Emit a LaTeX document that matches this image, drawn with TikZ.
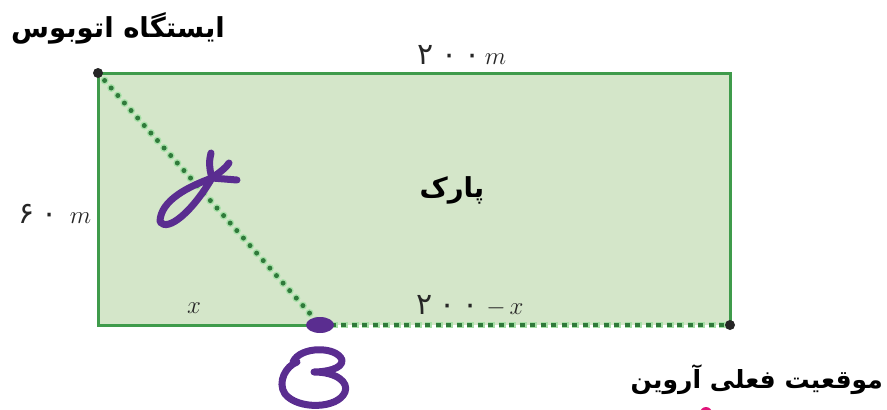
\documentclass[tikz,border=0pt]{standalone}
\usepackage{fontspec}
\newfontfamily\fa[Script=Arabic]{DejaVu Sans}
\TeXXeTstate=1
\definecolor{parkfill}{HTML}{D4E6C9}
\definecolor{edgec}{HTML}{3F9B4B}
\definecolor{dotc}{HTML}{2F7A3A}
\definecolor{glowc}{HTML}{A8E0A8}
\definecolor{pen}{HTML}{5A2D90}
\definecolor{pinkc}{HTML}{E0147A}
\newcommand{\fadig}[1]{{\fa\fontsize{30}{32}\selectfont #1}}
\newcommand{\dsp}{\hspace{7pt}}
\tikzset{
  falabel/.style={font=\fa\bfseries\fontsize{27.5}{30}\selectfont, text=black, inner sep=0pt},
  mathlabel/.style={font=\fontsize{27}{30}\selectfont, text=black!85, inner sep=0pt},
  edgeline/.style={edgec, line width=3},
  handw/.style={pen, line width=7, line cap=round, line join=round},
  corner/.style={circle, fill=black!85, inner sep=0pt, minimum size=10pt}
}
\begin{document}
\begin{tikzpicture}[x=1pt,y=-1pt]
\useasboundingbox (0,0) rectangle (887,410);
\coordinate (A) at (98,73);
\coordinate (B) at (730,73);
\coordinate (C) at (730,325);
\coordinate (D) at (98,325);
\coordinate (P) at (320,325);
\fill[parkfill] (A) rectangle (C);
\draw[edgeline] (P) -- (D) -- (A) -- (B) -- (C);
% diagonal dotted path
\draw[glowc, line width=8, line cap=round, dash pattern=on 0pt off 10pt] (A) -- (P);
\draw[dotc, line width=5, line cap=round, dash pattern=on 0pt off 10pt] (A) -- (P);
% bottom dashed part
\draw[glowc, line width=6, dash pattern=on 7pt off 3.5pt] (P) -- (C);
\draw[dotc, line width=4, dash pattern=on 5pt off 5.5pt] (P) -- (C);
\node[corner] (stop) at (A) {};
\node[corner] (arvin) at (C) {};
% labels
\node[falabel] (stoplbl) at (118,28) {\beginR ایستگاه اتوبوس\endR};
\node[falabel, font=\fa\bfseries\fontsize{25}{28}\selectfont, anchor=east] (arvinlbl) at (883,380) {\beginR موقعیت فعلی آروین\endR};
\node[falabel] (park) at (452,190) {\beginR پارک\endR};
\node[mathlabel] (top) at (462,55) {\fadig{۲\dsp۰\dsp۰}\,$m$};
\node[mathlabel] (left) at (55,214) {\fadig{۶\dsp۰}\;\,$m$};
\node[mathlabel] (xlbl) at (194,308) {$x$};
\node[mathlabel] (rest) at (470,306) {\fadig{۲\dsp۰\dsp۰}\;$-\,x$};
% handwriting
\fill[pen] (P) ellipse (14 and 8);
\draw[handw] (237,180) -- (212,178)
  .. controls (190,186) and (160,200) .. (160,222)
  .. controls (168,232) and (192,212) .. (212,178);
\draw[handw] (212,178) .. controls (209,168) and (209,160) .. (211,153);
\draw[handw] (212,178) .. controls (220,172) and (226,168) .. (229,163);
\draw[handw] (293,362) .. controls (300,346) and (337,346) .. (342,360)
  .. controls (343,369) and (325,372) .. (314,372)
  .. controls (336,372) and (349,382) .. (345,392)
  .. controls (338,409) and (298,410) .. (285,394)
  .. controls (277,382) and (286,366) .. (297,362);
\begin{scope}
\clip (0,0) rectangle (887,410);
\fill[pinkc] (706,413) circle (6);
\end{scope}
\end{tikzpicture}
\end{document}
